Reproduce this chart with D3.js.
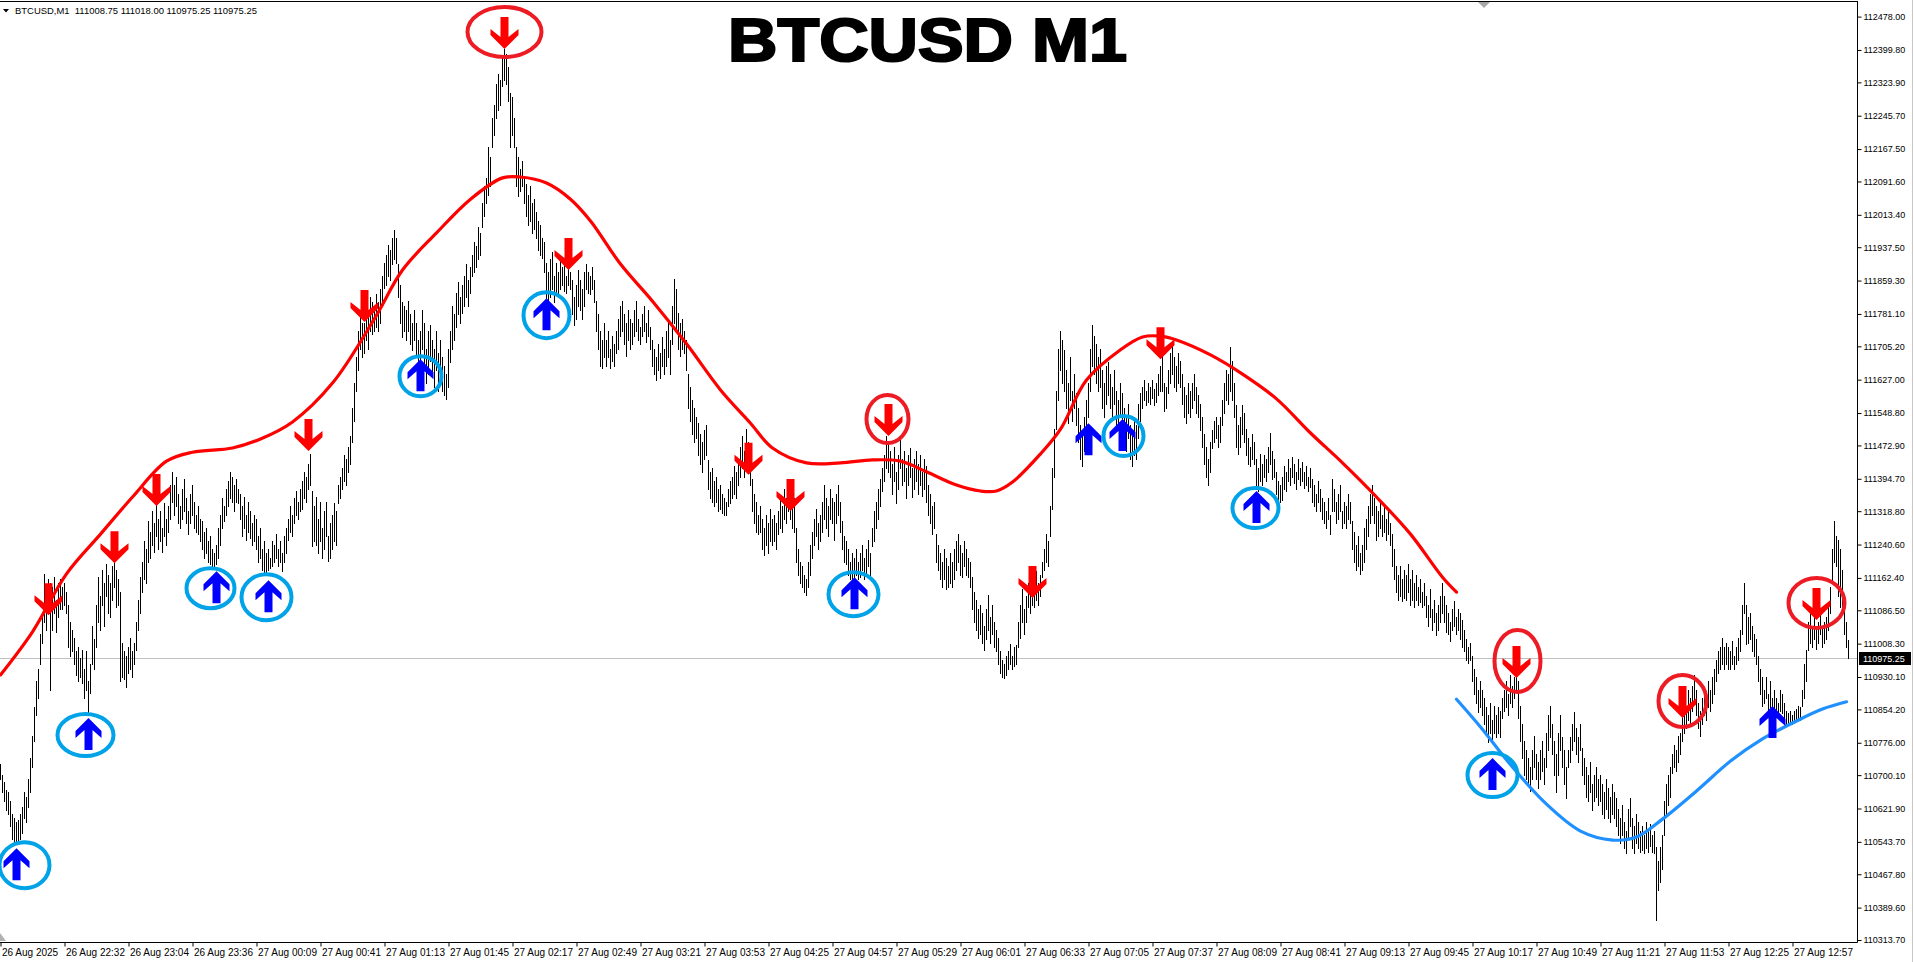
<!DOCTYPE html>
<html>
<head>
<meta charset="utf-8">
<script src="https://cdn.jsdelivr.net/npm/d3@7"></script>
<style>
  html, body { margin: 0; padding: 0; background: #fff; overflow: hidden; }
  svg { display: block; }
  text { font-family: "Liberation Sans", Arial, sans-serif; }
</style>
</head>
<body>
<svg id="chart" width="1914" height="962"></svg>
<script>
// --- header / title ---
const headerText = "BTCUSD,M1  111008.75 111018.00 110975.25 110975.25";
const titleText = "BTCUSD M1";
const lastPrice = 110975.25;

// right price scale labels
const priceTicks = [112478.00, 112399.80, 112323.90, 112245.70, 112167.50, 112091.60, 112013.40,
  111937.50, 111859.30, 111781.10, 111705.20, 111627.00, 111548.80, 111472.90, 111394.70,
  111318.80, 111240.60, 111162.40, 111086.50, 111008.30, 110930.10, 110854.20, 110776.00,
  110700.10, 110621.90, 110543.70, 110467.80, 110389.60, 110313.70];

// time labels, one every 32 bars
const timeStep = 32;
const timeLabels = ["26 Aug 2025", "26 Aug 22:32", "26 Aug 23:04", "26 Aug 23:36", "27 Aug 00:09",
  "27 Aug 00:41", "27 Aug 01:13", "27 Aug 01:45", "27 Aug 02:17", "27 Aug 02:49", "27 Aug 03:21",
  "27 Aug 03:53", "27 Aug 04:25", "27 Aug 04:57", "27 Aug 05:29", "27 Aug 06:01", "27 Aug 06:33",
  "27 Aug 07:05", "27 Aug 07:37", "27 Aug 08:09", "27 Aug 08:41", "27 Aug 09:13", "27 Aug 09:45",
  "27 Aug 10:17", "27 Aug 10:49", "27 Aug 11:21", "27 Aug 11:53", "27 Aug 12:25", "27 Aug 12:57"];

// M1 bars: [high, low] as offsets from priceBase
const priceBase = 110000;
const barHL = [
[726,690],[700,660],[684,640],[665,618],[660,610],[640,580],[610,550],[600,545],[590,539],[595,545],
[610,550],[625,565],[660,600],[650,590],[690,625],[740,660],[792,720],[860,780],[920,840],[950,880],
[1030,960],[1080,1010],[1172,1060],[1120,1040],[1160,1080],[1150,900],[1140,1040],[1164,1080],[1110,1036],[1150,1070],
[1160,1090],[1140,1090],[1150,1100],[1130,1080],[1100,1000],[1060,979],[1040,990],[1021,960],[990,935],[1000,921],
[975,930],[993,915],[950,880],[990,900],[920,848],[960,893],[1050,960],[1020,950],[1100,1000],[1164,1060],
[1120,1040],[1180,1100],[1150,1050],[1195,1120],[1170,1080],[1150,1070],[1190,1110],[1202,1140],[1180,1094],[1160,1100],
[1130,921],[1010,930],[990,925],[980,907],[1000,940],[1021,950],[990,930],[1010,960],[1060,993],[1110,1040],
[1164,1080],[1200,1130],[1250,1160],[1230,1150],[1296,1200],[1270,1210],[1320,1240],[1290,1223],[1338,1260],[1300,1230],
[1320,1250],[1280,1223],[1338,1260],[1300,1240],[1330,1270],[1380,1300],[1411,1340],[1380,1310],[1400,1330],[1360,1290],
[1330,1279],[1370,1300],[1394,1320],[1350,1290],[1320,1265],[1360,1290],[1380,1310],[1340,1280],[1310,1270],[1330,1265],
[1300,1250],[1296,1230],[1270,1210],[1280,1220],[1250,1200],[1260,1195],[1230,1190],[1220,1188],[1240,1195],[1280,1210],
[1310,1240],[1350,1280],[1330,1296],[1370,1310],[1390,1330],[1411,1350],[1400,1340],[1380,1320],[1394,1340],[1370,1338],
[1360,1300],[1330,1260],[1352,1280],[1310,1251],[1340,1270],[1320,1255],[1290,1240],[1310,1250],[1300,1230],[1260,1200],
[1280,1210],[1230,1180],[1250,1172],[1220,1175],[1230,1180],[1210,1185],[1250,1190],[1240,1200],[1265,1210],[1230,1190],
[1250,1200],[1220,1179],[1260,1200],[1280,1220],[1300,1251],[1330,1270],[1310,1260],[1350,1290],[1366,1310],[1340,1300],
[1370,1320],[1390,1324],[1410,1350],[1400,1340],[1430,1370],[1453,1380],[1366,1237],[1330,1250],[1352,1240],[1300,1220],
[1340,1250],[1280,1210],[1320,1230],[1340,1260],[1260,1202],[1290,1210],[1310,1230],[1338,1250],[1320,1240],[1380,1338],
[1400,1350],[1420,1370],[1450,1390],[1440,1380],[1470,1410],[1495,1430],[1560,1481],[1620,1530],[1680,1600],[1741,1650],
[1780,1700],[1760,1680],[1760,1690],[1800,1720],[1790,1700],[1820,1740],[1810,1734],[1790,1740],[1828,1750],[1810,1740],
[1840,1760],[1870,1800],[1900,1842],[1920,1850],[1943,1870],[1930,1860],[1960,1898],[1978,1910],[1960,1900],[1898,1820],
[1850,1760],[1810,1727],[1800,1740],[1790,1720],[1811,1740],[1780,1710],[1760,1697],[1790,1720],[1760,1680],[1720,1640],
[1740,1660],[1790,1700],[1760,1650],[1700,1620],[1740,1640],[1755,1670],[1720,1640],[1700,1610],[1740,1650],[1690,1600],
[1720,1630],[1680,1600],[1660,1590],[1640,1582],[1700,1610],[1740,1668],[1800,1700],[1780,1720],[1830,1750],[1856,1780],
[1820,1760],[1850,1783],[1870,1800],[1898,1820],[1860,1800],[1890,1830],[1920,1870],[1950,1880],[1940,1890],[1985,1910],
[1970,1920],[2040,1985],[2080,2010],[2100,2040],[2172,2060],[2150,2080],[2240,2172],[2270,2200],[2320,2240],[2344,2260],
[2330,2270],[2380,2315],[2402,2330],[2390,2320],[2360,2280],[2300,2172],[2290,2200],[2240,2172],[2172,2080],[2150,2058],
[2120,2070],[2140,2080],[2100,2040],[2086,2010],[2060,1990],[2080,2000],[2040,1971],[2050,1980],[2020,1960],[1999,1930],
[1990,1920],[1960,1912],[1950,1880],[1900,1800],[1880,1797],[1910,1820],[1926,1840],[1870,1810],[1900,1830],[1880,1828],
[1912,1840],[1890,1850],[1900,1835],[1870,1830],[1905,1850],[1880,1840],[1860,1780],[1820,1755],[1850,1770],[1884,1800],
[1860,1790],[1840,1770],[1880,1800],[1898,1840],[1880,1830],[1870,1828],[1890,1840],[1860,1810],[1811,1740],[1780,1700],
[1740,1660],[1720,1654],[1760,1680],[1720,1660],[1741,1680],[1700,1654],[1730,1670],[1710,1660],[1740,1690],[1770,1700],
[1800,1730],[1811,1740],[1780,1710],[1760,1683],[1790,1720],[1770,1700],[1760,1711],[1790,1730],[1811,1740],[1770,1720],
[1750,1711],[1780,1730],[1800,1740],[1760,1715],[1790,1730],[1750,1700],[1720,1660],[1700,1640],[1680,1626],[1710,1650],
[1690,1630],[1727,1660],[1700,1640],[1740,1660],[1769,1680],[1720,1640],[1800,1711],[1863,1760],[1840,1740],[1783,1700],
[1760,1683],[1770,1700],[1740,1690],[1720,1650],[1640,1560],[1610,1530],[1580,1500],[1560,1481],[1540,1490],[1525,1450],
[1500,1430],[1480,1411],[1510,1440],[1520,1450],[1439,1370],[1410,1350],[1420,1340],[1390,1330],[1400,1340],[1370,1320],
[1380,1325],[1360,1315],[1350,1310],[1340,1310],[1370,1330],[1390,1338],[1400,1350],[1425,1360],[1410,1350],[1440,1380],
[1470,1400],[1495,1420],[1460,1400],[1511,1430],[1480,1410],[1450,1380],[1394,1320],[1360,1290],[1340,1270],[1310,1265],
[1330,1270],[1300,1230],[1280,1216],[1310,1240],[1290,1220],[1324,1250],[1300,1240],[1310,1250],[1290,1230],[1320,1265],
[1350,1280],[1330,1270],[1370,1300],[1350,1290],[1394,1320],[1360,1300],[1340,1280],[1350,1270],[1279,1200],[1230,1170],
[1200,1150],[1190,1140],[1170,1130],[1160,1122],[1200,1140],[1240,1170],[1270,1209],[1300,1240],[1324,1260],[1290,1230],
[1310,1250],[1340,1270],[1380,1300],[1350,1280],[1330,1260],[1370,1300],[1350,1290],[1340,1251],[1360,1290],[1380,1310],
[1340,1270],[1296,1230],[1260,1200],[1250,1195],[1230,1170],[1200,1160],[1220,1157],[1210,1165],[1230,1170],[1200,1160],
[1220,1165],[1240,1180],[1210,1160],[1230,1170],[1251,1190],[1220,1170],[1280,1237],[1320,1250],[1340,1280],[1370,1300],
[1394,1330],[1420,1366],[1450,1390],[1495,1420],[1480,1410],[1460,1400],[1430,1360],[1470,1390],[1410,1338],[1450,1370],
[1495,1420],[1440,1380],[1460,1390],[1420,1350],[1450,1380],[1467,1400],[1420,1352],[1440,1370],[1460,1390],[1430,1360],
[1450,1380],[1410,1355],[1440,1370],[1425,1340],[1380,1310],[1360,1290],[1330,1265],[1340,1280],[1265,1200],[1240,1180],
[1220,1160],[1200,1140],[1230,1160],[1210,1136],[1190,1140],[1220,1150],[1200,1140],[1230,1160],[1250,1180],[1265,1200],
[1240,1170],[1220,1165],[1250,1190],[1230,1170],[1210,1165],[1200,1140],[1165,1090],[1130,1060],[1110,1040],[1090,1022],
[1100,1030],[1080,1010],[1050,993],[1090,1020],[1122,1040],[1070,1010],[1100,1030],[1060,1000],[1040,990],[1022,960],
[990,940],[970,930],[960,928],[980,935],[990,949],[1008,960],[980,950],[1000,955],[1005,960],[1060,1000],
[1100,1022],[1136,1060],[1090,1030],[1120,1060],[1150,1094],[1130,1080],[1160,1100],[1140,1094],[1179,1110],[1150,1100],
[1170,1120],[1200,1165],[1230,1180],[1265,1200],[1250,1190],[1330,1260],[1420,1324],[1511,1400],[1600,1511],[1700,1580],
[1741,1650],[1720,1620],[1697,1600],[1650,1560],[1620,1526],[1680,1580],[1600,1530],[1640,1560],[1596,1520],[1560,1480],
[1520,1440],[1500,1425],[1540,1460],[1580,1490],[1620,1540],[1700,1600],[1755,1660],[1730,1640],[1711,1620],[1680,1600],
[1700,1610],[1650,1560],[1620,1540],[1660,1570],[1668,1590],[1640,1560],[1610,1540],[1650,1570],[1600,1520],[1580,1511],
[1620,1540],[1596,1530],[1560,1480],[1540,1460],[1570,1490],[1520,1440],[1500,1425],[1540,1450],[1520,1440],[1570,1490],
[1596,1530],[1610,1560],[1626,1580],[1600,1568],[1620,1575],[1610,1570],[1626,1585],[1605,1568],[1620,1575],[1640,1590],
[1660,1600],[1683,1600],[1620,1554],[1610,1560],[1650,1596],[1690,1620],[1704,1640],[1680,1610],[1660,1600],[1690,1620],
[1670,1610],[1640,1570],[1610,1540],[1590,1526],[1620,1550],[1600,1540],[1620,1560],[1640,1580],[1610,1550],[1590,1540],
[1570,1510],[1540,1470],[1500,1430],[1470,1400],[1440,1380],[1480,1410],[1510,1467],[1530,1480],[1540,1490],[1520,1470],
[1540,1480],[1580,1520],[1620,1550],[1650,1580],[1640,1570],[1704,1600],[1670,1580],[1620,1540],[1568,1470],[1520,1453],
[1540,1470],[1568,1500],[1550,1480],[1511,1450],[1490,1430],[1470,1425],[1500,1440],[1480,1430],[1440,1380],[1420,1366],
[1453,1390],[1430,1380],[1450,1400],[1440,1390],[1470,1410],[1502,1430],[1460,1394],[1440,1400],[1410,1360],[1390,1338],
[1380,1340],[1400,1345],[1425,1370],[1410,1366],[1440,1390],[1420,1380],[1446,1400],[1430,1385],[1410,1370],[1440,1395],
[1420,1380],[1435,1390],[1410,1372],[1425,1380],[1400,1366],[1420,1375],[1394,1340],[1380,1330],[1360,1320],[1390,1340],
[1370,1320],[1350,1300],[1340,1290],[1320,1280],[1350,1300],[1310,1265],[1394,1320],[1370,1320],[1340,1290],[1360,1300],
[1380,1320],[1320,1280],[1340,1290],[1330,1279],[1360,1300],[1340,1290],[1296,1230],[1270,1200],[1240,1180],[1260,1190],
[1220,1172],[1240,1180],[1280,1200],[1300,1230],[1330,1260],[1360,1290],[1380,1310],[1350,1290],[1330,1251],[1320,1260],
[1338,1280],[1310,1260],[1330,1270],[1300,1251],[1320,1265],[1290,1240],[1265,1190],[1230,1160],[1190,1130],[1170,1110],
[1190,1120],[1160,1108],[1180,1115],[1170,1110],[1195,1130],[1160,1100],[1180,1110],[1150,1094],[1170,1110],[1140,1100],
[1160,1105],[1130,1094],[1150,1100],[1120,1070],[1100,1050],[1136,1070],[1090,1040],[1110,1060],[1080,1029],[1100,1040],
[1120,1060],[1150,1080],[1120,1060],[1100,1036],[1080,1030],[1060,1014],[1090,1040],[1108,1050],[1070,1030],[1090,1040],
[1080,1020],[1064,1000],[1040,990],[1020,970],[1000,963],[1010,970],[979,920],[950,890],[930,870],[900,848],
[920,860],[900,840],[880,820],[860,800],[840,778],[870,800],[830,778],[862,800],[840,790],[860,800],
[850,790],[880,834],[900,850],[920,860],[890,840],[935,870],[910,860],[930,880],[963,900],[920,834],
[862,780],[820,740],[780,700],[760,691],[740,680],[720,663],[760,690],[792,720],[750,690],[730,670],
[760,690],[780,710],[740,680],[800,720],[840,760],[862,790],[820,750],[780,700],[750,660],[800,700],
[840,760],[790,720],[760,680],[720,646],[760,719],[790,730],[820,760],[848,780],[810,750],[790,730],
[820,760],[764,700],[740,680],[720,650],[700,640],[730,660],[680,618],[700,640],[719,650],[690,630],
[700,640],[680,610],[660,600],[690,620],[670,600],[650,590],[680,610],[660,600],[646,580],[620,560],
[600,540],[630,560],[590,530],[570,518],[620,550],[646,580],[600,530],[580,518],[610,540],[590,530],
[570,520],[580,525],[560,518],[590,530],[575,520],[585,535],[560,520],[570,518],[532,361],[500,431],
[532,450],[560,480],[640,560],[680,604],[700,630],[719,650],[750,705],[770,720],[760,710],[792,730],
[800,750],[840,780],[870,800],[860,810],[900,830],[880,820],[910,850],[935,870],[900,840],[870,810],
[850,792],[880,820],[900,840],[880,830],[921,860],[900,850],[930,870],[950,890],[970,921],[990,940],
[1000,950],[1022,960],[1000,950],[1010,960],[1000,949],[990,950],[1015,960],[980,950],[1000,960],[1022,970],
[1040,990],[1100,1030],[1150,1080],[1100,1008],[1070,1010],[1080,1020],[1050,990],[1030,979],[1020,960],[979,920],
[950,890],[930,862],[900,870],[930,880],[890,840],[921,860],[880,834],[900,850],[880,840],[870,835],
[900,850],[890,845],[870,835],[850,820],[845,822],[850,825],[842,820],[850,826],[855,830],[862,835],
[860,830],[900,862],[960,880],[993,920],[1060,993],[1080,1010],[1050,1000],[1070,1020],[1040,995],[1060,1010],
[1080,1030],[1050,1000],[1060,1010],[1070,1020],[1100,1040],[1140,1080],[1230,1150],[1296,1200],[1260,1190],[1252,1120],
[1230,1094],[1180,1080],[1108,1030],[1060,1000],[1018,975]
];

// trend line readings: [bar index, price offset]
const redLine = [[0,935],[16,1036],[33,1172],[50,1265],[66,1352],[83,1436],[96,1457],[116,1467],[130,1488],
  [146,1528],[166,1619],[187,1770],[201,1884],[218,1971],[235,2050],[251,2100],[260,2102],[273,2088],
  [285,2050],[295,1999],[310,1898],[326,1811],[343,1711],[360,1603],[375,1525],[386,1467],[403,1432],
  [420,1432],[436,1439],[450,1436],[463,1411],[478,1380],[490,1366],[498,1366],[506,1387],[520,1453],
  [530,1511],[543,1626],[560,1697],[571,1727],[580,1729],[588,1720],[605,1685],[621,1640],[638,1582],
  [655,1502],[671,1432],[688,1352],[705,1265],[721,1164],[728,1129]];
const blueLine = [[728,878],[740,813],[756,719],[773,632],[790,569],[806,548],[818,555],[831,597],
  [848,663],[865,733],[881,785],[898,827],[911,855],[923,872]];

// arrow signals
const sigBar   = [8, 24, 44, 57, 78, 108, 134, 154, 182, 210, 252, 273, 284, 374, 395, 427, 444, 516, 544, 561, 580, 628, 746, 758, 841, 886, 908];
const sigDir   = ["up","dn","up","dn","dn","up","up","dn","dn","up","dn","up","dn","dn","dn","up","dn","dn","up","up","dn","up","up","dn","dn","up","dn"];
const sigPrice = [529, 1075, 834, 1197, 1331, 1178, 1157, 1460, 1762, 1675, 2402, 1818, 1884, 1404, 1319, 1164, 1495, 1115, 1525, 1535, 1675, 1366, 740, 928, 834, 862, 1064];
const sigRing  = [1, 0, 1, 0, 0, 1, 1, 0, 0, 1, 1, 1, 0, 0, 0, 1, 1, 0, 0, 1, 0, 1, 1, 1, 1, 0, 1];

// hand-drawn ring sizes and nudges (style), keyed by bar: [rx, ry, dx]
const ringSize = {8:[25,23,8], 44:[28,21,-3], 108:[24,20,-6], 134:[25,23,-2], 210:[21,20,0], 252:[37,25,0],
  273:[23,23,0], 427:[25,22,-1], 444:[21,24,-1], 561:[20,20,1], 628:[23,20,-1], 746:[25,22,0],
  758:[23,31,1], 841:[24,26,0], 908:[28,25,0]};

// --- chart ---
const svg = d3.select("#chart");
const axisX = 1857.5, axisY = 942.5;

const x = d3.scaleLinear().domain([0, barHL.length - 1]).range([0.5, 1848.5]);
const y = d3.scaleLinear().domain([110313.7, 112478]).range([940, 16.6]);

svg.append("rect").attr("width", 1914).attr("height", 962).attr("fill", "#fff");

// current price line
const yLast = Math.round(y(lastPrice)) + 0.5;
svg.append("line").attr("x1", 0).attr("x2", axisX).attr("y1", yLast).attr("y2", yLast)
  .attr("stroke", "#c0c0c0").attr("stroke-width", 1);

// bars
svg.append("g").selectAll("line")
  .data(barHL)
  .join("line")
  .attr("x1", (d, i) => x(i)).attr("x2", (d, i) => x(i))
  .attr("y1", d => Math.round(y(priceBase + d[0])))
  .attr("y2", d => Math.round(y(priceBase + d[1])) + 1)
  .attr("stroke", "#000").attr("stroke-width", 1)
  .attr("shape-rendering", "crispEdges");

// trend lines
const trend = d3.line()
  .x(d => x(d[0]))
  .y(d => y(priceBase + d[1]))
  .curve(d3.curveCatmullRom.alpha(0.5));

svg.append("path").attr("d", trend(redLine))
  .attr("fill", "none").attr("stroke", "#ff0000").attr("stroke-width", 3.2).attr("stroke-linecap", "round");
svg.append("path").attr("d", trend(blueLine))
  .attr("fill", "none").attr("stroke", "#1e90ff").attr("stroke-width", 3.2).attr("stroke-linecap", "round");

// arrows
const upArrow = "M0,0 L13,13 L13,20 L4,12 L4,32 L-4,32 L-4,12 L-13,20 L-13,13 Z";
const dnArrow = "M0,0 L14,-14 L14,-20 L4,-12 L4,-32 L-4,-32 L-4,-12 L-14,-20 L-14,-14 Z";

const signals = sigBar.map((b, k) => ({ bar: b, dir: sigDir[k], price: priceBase + sigPrice[k], ring: sigRing[k] }));

svg.append("g").selectAll("path")
  .data(signals)
  .join("path")
  .attr("d", d => d.dir === "up" ? upArrow : dnArrow)
  .attr("transform", d => `translate(${x(d.bar)},${y(d.price)})`)
  .attr("fill", d => d.dir === "up" ? "#0000ff" : "#ff0000");

// rings
svg.append("g").selectAll("ellipse")
  .data(signals.filter(d => d.ring))
  .join("ellipse")
  .attr("cx", d => x(d.bar) + ringSize[d.bar][2])
  .attr("cy", d => y(d.price) + (d.dir === "up" ? 17 : -17))
  .attr("rx", d => ringSize[d.bar][0])
  .attr("ry", d => ringSize[d.bar][1])
  .attr("fill", "none")
  .attr("stroke", d => d.dir === "up" ? "#00a2e8" : "#ed1c24")
  .attr("stroke-width", 4);

// frame
svg.append("line").attr("x1", 0).attr("x2", axisX).attr("y1", 1.5).attr("y2", 1.5).attr("stroke", "#000");
svg.append("line").attr("x1", axisX).attr("x2", axisX).attr("y1", 1).attr("y2", axisY).attr("stroke", "#000");
svg.append("line").attr("x1", 0).attr("x2", axisX).attr("y1", axisY).attr("y2", axisY).attr("stroke", "#000");
svg.append("line").attr("x1", 1912.5).attr("x2", 1912.5).attr("y1", 0).attr("y2", 962).attr("stroke", "#c8c8c8");
svg.append("path").attr("d", "M1478,2 L1490,2 L1484,8 Z").attr("fill", "#a8a8a8");
svg.append("path").attr("d", "M0,933 L6,941 L0,941 Z").attr("fill", "#b0b0b0");

// right axis
const yAxis = svg.append("g")
  .attr("transform", `translate(${axisX},0)`)
  .call(d3.axisRight(y).tickValues(priceTicks).tickFormat(d3.format(".2f")).tickSize(4).tickPadding(2).tickSizeOuter(0));
yAxis.select(".domain").remove();
yAxis.selectAll("line").attr("stroke", "#000");
yAxis.selectAll("text").attr("font-size", 9).attr("font-family", "Liberation Sans, Arial, sans-serif").attr("fill", "#000");

// bottom axis
const timeIdx = timeLabels.map((t, k) => k * timeStep);
const xAxis = svg.append("g")
  .attr("transform", `translate(0,${axisY})`)
  .call(d3.axisBottom(x).tickValues(timeIdx).tickFormat((d, k) => timeLabels[k]).tickSize(4).tickPadding(3).tickSizeOuter(0));
xAxis.select(".domain").remove();
xAxis.selectAll("line").attr("stroke", "#000");
xAxis.selectAll("text").attr("font-size", 10).attr("font-family", "Liberation Sans, Arial, sans-serif")
  .attr("fill", "#000").attr("text-anchor", "start").attr("x", 1).attr("dy", "0.62em");

// last price tag
svg.append("rect").attr("x", 1859).attr("y", yLast - 6.5).attr("width", 52).attr("height", 13).attr("fill", "#000");
svg.append("text").attr("x", 1863).attr("y", yLast + 3.5).attr("font-size", 9).attr("fill", "#fff")
  .text(d3.format(".2f")(lastPrice));

// header line
svg.append("path").attr("d", "M3,9 L9,9 L6,12.5 Z").attr("fill", "#000");
svg.append("text").attr("x", 15).attr("y", 14).attr("font-size", 9).attr("fill", "#000")
  .attr("textLength", 242).attr("lengthAdjust", "spacingAndGlyphs")
  .style("white-space", "pre").text(headerText);

// title
svg.append("text")
  .attr("x", 927.5).attr("y", 61)
  .attr("text-anchor", "middle")
  .attr("font-size", 62).attr("font-weight", "bold")
  .attr("textLength", 399).attr("lengthAdjust", "spacingAndGlyphs")
  .attr("fill", "#000").attr("stroke", "#000").attr("stroke-width", 2.2)
  .text(titleText);
</script>
</body>
</html>
